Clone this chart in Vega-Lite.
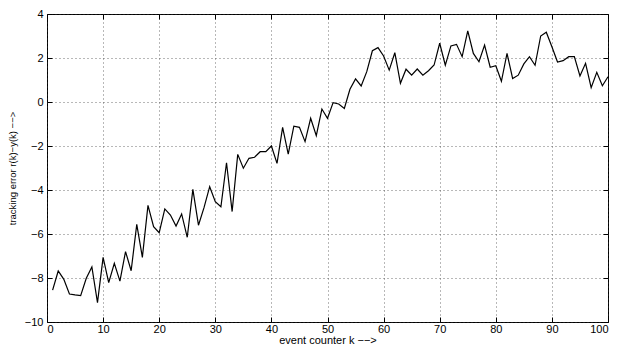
{
  "$schema": "https://vega.github.io/schema/vega-lite/v6.json",
  "width": 561,
  "height": 308,
  "autosize": {"type": "none"},
  "padding": {"left": 47, "top": 14, "right": 10, "bottom": 23},
  "background": "white",
  "config": {
    "view": {"stroke": "black", "strokeWidth": 1},
    "font": "Liberation Sans",
    "axis": {
      "domain": false,
      "tickColor": "black",
      "tickSize": -5,
      "labelColor": "black",
      "labelFontSize": 11,
      "titleFontSize": 11,
      "titleFontWeight": "normal",
      "titleColor": "black",
      "gridColor": "#333333",
      "gridDash": [1, 3],
      "gridOpacity": 0.7
    }
  },
  "data": {
    "values": [
      {"k": 1, "v": -8.55}, {"k": 2, "v": -7.68}, {"k": 3, "v": -8.06}, {"k": 4, "v": -8.73}, {"k": 5, "v": -8.77},
      {"k": 6, "v": -8.8}, {"k": 7, "v": -8.01}, {"k": 8, "v": -7.5}, {"k": 9, "v": -9.12}, {"k": 10, "v": -7.06},
      {"k": 11, "v": -8.21}, {"k": 12, "v": -7.33}, {"k": 13, "v": -8.14}, {"k": 14, "v": -6.8}, {"k": 15, "v": -7.67},
      {"k": 16, "v": -5.56}, {"k": 17, "v": -7.06}, {"k": 18, "v": -4.7}, {"k": 19, "v": -5.67}, {"k": 20, "v": -5.94},
      {"k": 21, "v": -4.86}, {"k": 22, "v": -5.14}, {"k": 23, "v": -5.64}, {"k": 24, "v": -5.09}, {"k": 25, "v": -6.15},
      {"k": 26, "v": -3.97}, {"k": 27, "v": -5.6}, {"k": 28, "v": -4.79}, {"k": 29, "v": -3.85}, {"k": 30, "v": -4.53},
      {"k": 31, "v": -4.76}, {"k": 32, "v": -2.76}, {"k": 33, "v": -4.98}, {"k": 34, "v": -2.38}, {"k": 35, "v": -3.01},
      {"k": 36, "v": -2.56}, {"k": 37, "v": -2.51}, {"k": 38, "v": -2.26}, {"k": 39, "v": -2.26}, {"k": 40, "v": -2.0},
      {"k": 41, "v": -2.79}, {"k": 42, "v": -1.15}, {"k": 43, "v": -2.37}, {"k": 44, "v": -1.1}, {"k": 45, "v": -1.15},
      {"k": 46, "v": -1.8}, {"k": 47, "v": -0.74}, {"k": 48, "v": -1.53}, {"k": 49, "v": -0.32}, {"k": 50, "v": -0.74},
      {"k": 51, "v": -0.03}, {"k": 52, "v": -0.09}, {"k": 53, "v": -0.29}, {"k": 54, "v": 0.58}, {"k": 55, "v": 1.05},
      {"k": 56, "v": 0.73}, {"k": 57, "v": 1.38}, {"k": 58, "v": 2.33}, {"k": 59, "v": 2.47}, {"k": 60, "v": 2.09},
      {"k": 61, "v": 1.45}, {"k": 62, "v": 2.24}, {"k": 63, "v": 0.85}, {"k": 64, "v": 1.49}, {"k": 65, "v": 1.22},
      {"k": 66, "v": 1.5}, {"k": 67, "v": 1.22}, {"k": 68, "v": 1.42}, {"k": 69, "v": 1.68}, {"k": 70, "v": 2.67},
      {"k": 71, "v": 1.67}, {"k": 72, "v": 2.55}, {"k": 73, "v": 2.62}, {"k": 74, "v": 2.06}, {"k": 75, "v": 3.23},
      {"k": 76, "v": 2.21}, {"k": 77, "v": 1.83}, {"k": 78, "v": 2.59}, {"k": 79, "v": 1.58}, {"k": 80, "v": 1.65},
      {"k": 81, "v": 0.94}, {"k": 82, "v": 2.21}, {"k": 83, "v": 1.07}, {"k": 84, "v": 1.22}, {"k": 85, "v": 1.73},
      {"k": 86, "v": 2.06}, {"k": 87, "v": 1.67}, {"k": 88, "v": 3.0}, {"k": 89, "v": 3.17}, {"k": 90, "v": 2.51},
      {"k": 91, "v": 1.82}, {"k": 92, "v": 1.88}, {"k": 93, "v": 2.06}, {"k": 94, "v": 2.06}, {"k": 95, "v": 1.18},
      {"k": 96, "v": 1.76}, {"k": 97, "v": 0.65}, {"k": 98, "v": 1.35}, {"k": 99, "v": 0.74}, {"k": 100, "v": 1.15}
    ]
  },
  "layer": [
    {
      "mark": {"type": "line", "color": "black", "strokeWidth": 1.2},
      "encoding": {
        "x": {
          "field": "k", "type": "quantitative",
          "scale": {"domain": [0, 100], "nice": false},
          "axis": {
            "values": [0, 10, 20, 30, 40, 50, 60, 70, 80, 90, 100],
            "title": "event counter k −−>",
            "grid": true,
            "labelPadding": 6,
            "titlePadding": 0
          }
        },
        "y": {
          "field": "v", "type": "quantitative",
          "scale": {"domain": [-10, 4], "nice": false},
          "axis": {
            "values": [-10, -8, -6, -4, -2, 0, 2, 4],
            "title": "tracking error r(k)−y(k) −−>",
            "titleFontSize": 9.5,
            "grid": true,
            "labelPadding": 9,
            "titlePadding": 7
          }
        }
      }
    },
    {
      "mark": {"type": "line", "opacity": 0},
      "encoding": {
        "x": {
          "field": "k", "type": "quantitative",
          "scale": {"domain": [0, 100], "nice": false},
          "axis": {"orient": "top", "values": [0, 10, 20, 30, 40, 50, 60, 70, 80, 90, 100], "labels": false, "title": null, "grid": false}
        },
        "y": {
          "field": "v", "type": "quantitative",
          "scale": {"domain": [-10, 4], "nice": false},
          "axis": {"orient": "right", "values": [-10, -8, -6, -4, -2, 0, 2, 4], "labels": false, "title": null, "grid": false}
        }
      }
    }
  ],
  "resolve": {"axis": {"x": "independent", "y": "independent"}}
}
